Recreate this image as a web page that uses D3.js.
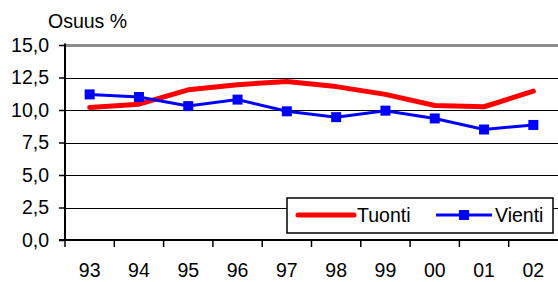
<!DOCTYPE html>
<html>
<head>
<meta charset="utf-8">
<script src="https://cdn.jsdelivr.net/npm/d3@7"></script>
<style>
  body { margin: 0; background: #fff; }
  text { font-family: "Liberation Sans", Arial, sans-serif; fill: #000; }
</style>
</head>
<body>
<div id="chart"></div>
<script>
let years = ['93', '94', '95', '96', '97', '98', '99', '00', '01', '02'];
let tuonti = [10.2, 10.45, 11.55, 11.95, 12.2, 11.8, 11.2, 10.35, 10.25, 11.45];
let vienti = [11.2, 11.0, 10.3, 10.8, 9.9, 9.45, 9.95, 9.35, 8.5, 8.85];
let yTicks = [0, 2.5, 5, 7.5, 10, 12.5, 15];

let width = 558;
let height = 282;
let padding = { left: 65, right: 0, top: 45, bottom: 42 };

let svg = d3.select('#chart').append('svg')
    .attr('width', width).attr('height', height);

let xScale = d3.scaleBand()
    .domain(years)
    .range([padding.left, width - padding.right]);
let yScale = d3.scaleLinear()
    .domain([0, 15])
    .range([height - padding.bottom, padding.top]);

let fmt = d => d3.format('.1f')(d).replace('.', ',');

// gridlines
svg.append('g')
    .selectAll('line')
    .data(yTicks.filter(d => d > 0))
    .enter()
    .append('line')
    .attr('x1', padding.left)
    .attr('x2', width - padding.right)
    .attr('y1', d => Math.round(yScale(d)) + 0.5)
    .attr('y2', d => Math.round(yScale(d)) + 0.5)
    .attr('stroke', d => d === 15 ? '#8c8c8c' : '#000')
    .attr('stroke-width', d => d === 15 ? 3 : 1)
    .attr('shape-rendering', 'crispEdges');

// y axis
let yAxis = d3.axisLeft(yScale).tickValues(yTicks).tickFormat(fmt).tickSize(6).tickPadding(10);
let gy = svg.append('g')
    .attr('transform', 'translate(' + padding.left + ',0)')
    .call(yAxis);
gy.select('.domain').remove();
gy.selectAll('.tick line').attr('stroke', '#000').attr('stroke-width', 1.5);
gy.selectAll('text').style('font-size', '19.5px');
svg.append('line')
    .attr('x1', padding.left).attr('x2', padding.left)
    .attr('y1', yScale(15) - 1.5).attr('y2', yScale(0))
    .attr('stroke', '#000').attr('stroke-width', 2);

// x axis
let gx = svg.append('g')
    .attr('transform', 'translate(0,' + yScale(0) + ')');
gx.append('line')
    .attr('x1', padding.left - 6).attr('x2', width)
    .attr('stroke', '#000').attr('stroke-width', 2);
gx.selectAll('.tk')
    .data(years)
    .enter()
    .append('line')
    .attr('x1', d => xScale(d)).attr('x2', d => xScale(d))
    .attr('y1', 0).attr('y2', 7)
    .attr('stroke', '#000').attr('stroke-width', 1.5);
gx.selectAll('.lbl')
    .data(years)
    .enter()
    .append('text')
    .attr('x', d => xScale(d) + xScale.bandwidth() / 2)
    .attr('y', 37)
    .attr('text-anchor', 'middle')
    .style('font-size', '19.5px')
    .text(d => d);

// title
svg.append('text')
    .attr('x', 48).attr('y', 28)
    .style('font-size', '19.5px')
    .text('Osuus %');

let cx = (d, i) => xScale(years[i]) + xScale.bandwidth() / 2;
let line = d3.line().x(cx).y(d => yScale(d));

svg.append('path')
    .datum(tuonti)
    .attr('d', line)
    .attr('fill', 'none')
    .attr('stroke', '#ff0000')
    .attr('stroke-width', 5)
    .attr('stroke-linejoin', 'round')
    .attr('stroke-linecap', 'round');

svg.append('path')
    .datum(vienti)
    .attr('d', line)
    .attr('fill', 'none')
    .attr('stroke', '#0000ff')
    .attr('stroke-width', 3);

svg.selectAll('.mk')
    .data(vienti)
    .enter()
    .append('rect')
    .attr('x', (d, i) => cx(d, i) - 5)
    .attr('y', d => yScale(d) - 5)
    .attr('width', 10).attr('height', 10)
    .attr('fill', '#0000ff');

// legend
let lg = svg.append('g').attr('transform', 'translate(287,198)');
lg.append('rect')
    .attr('width', 266).attr('height', 35)
    .attr('fill', '#fff').attr('stroke', '#000').attr('stroke-width', 1.5);
lg.append('line')
    .attr('x1', 11).attr('x2', 67).attr('y1', 17).attr('y2', 17)
    .attr('stroke', '#ff0000').attr('stroke-width', 5).attr('stroke-linecap', 'round');
lg.append('text').attr('x', 70).attr('y', 24).style('font-size', '19.5px').text('Tuonti');
lg.append('line')
    .attr('x1', 149).attr('x2', 205).attr('y1', 17).attr('y2', 17)
    .attr('stroke', '#0000ff').attr('stroke-width', 3);
lg.append('rect')
    .attr('x', 172).attr('y', 12).attr('width', 10).attr('height', 10)
    .attr('fill', '#0000ff');
lg.append('text').attr('x', 208).attr('y', 24).style('font-size', '19.5px').text('Vienti');
</script>
</body>
</html>
